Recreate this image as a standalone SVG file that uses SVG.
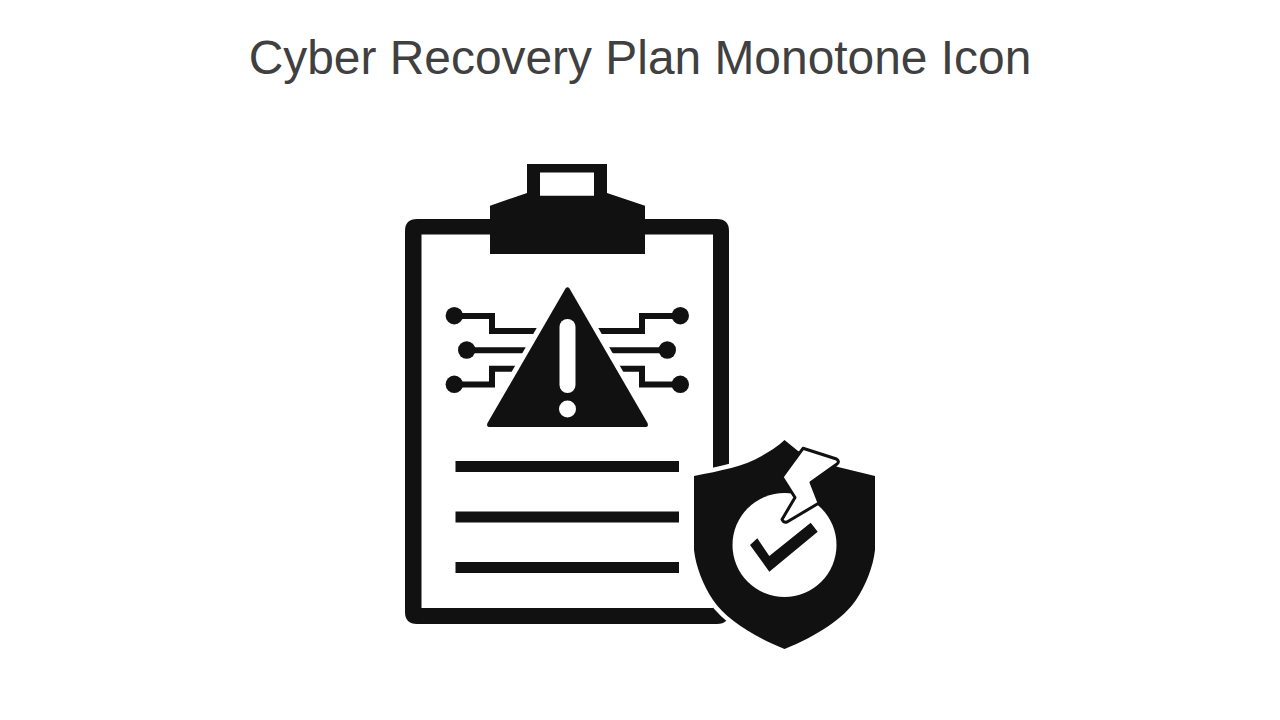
<svg xmlns="http://www.w3.org/2000/svg" width="1280" height="720" viewBox="0 0 1280 720">
<style>
.k{fill:#111}
.w{fill:#fff}
.t{fill:none;stroke:#111;stroke-width:6}
.title{font-family:"Liberation Sans",Arial,sans-serif;font-size:47.900px;fill:#404040;text-anchor:middle}
</style>
<rect width="1280" height="720" fill="#fff"/>
<text class="title" x="640" y="74">Cyber Recovery Plan Monotone Icon</text>
<g id="clipboard">
<path class="k" fill-rule="evenodd" d="M417 219H717Q729 219 729 231V612Q729 624 717 624H417Q405 624 405 612V231Q405 219 417 219ZM421.500 234.500V608H713V234.500Z"/>
<path class="k" fill-rule="evenodd" d="M527 164H607V193L645 205.700V254H490V205.700L527 193ZM540 172.500V195.700H594V172.500Z"/>
<rect class="k" x="455.500" y="461" width="223.500" height="11"/>
<rect class="k" x="455.500" y="511.500" width="223.500" height="11"/>
<rect class="k" x="455.500" y="562" width="223.500" height="11"/>
</g>
<g id="alert">
<g id="traces">
<path class="t" d="M454 316H492V331H545"/>
<path class="t" d="M467 350.300H540"/>
<path class="t" d="M454 384.500H492V368.700H530"/>
<path class="t" d="M680 316H642V331H589"/>
<path class="t" d="M667 350.300H594"/>
<path class="t" d="M680 384.500H642V368.700H604"/>
<circle class="k" cx="454.300" cy="315.700" r="8.700"/>
<circle class="k" cx="466.700" cy="350" r="8.700"/>
<circle class="k" cx="454.300" cy="384.300" r="8.700"/>
<circle class="k" cx="680.300" cy="315.700" r="8.700"/>
<circle class="k" cx="667.300" cy="350" r="8.700"/>
<circle class="k" cx="680.300" cy="384.300" r="8.700"/>
</g>
<path class="w" d="M567.500 274L657 431H478Z"/>
<path class="k" d="M565.500 288.500Q567.500 286 569.500 288.500L647.500 423Q649 427 645 427H490Q486 427 487.500 423Z"/>
<rect class="w" x="559.500" y="319" width="16" height="74" rx="8"/>
<circle class="w" cx="567.500" cy="409" r="8.500"/>
</g>
<g id="shield">
<path d="M694 476C720 471 745 466 761.700 456C770 451 777 447 784.500 440L798 451L838 467L875 476V550C873 567 866 585 856 600C844 618 817 636 784.500 649C752 636 725 618 713 600C703 585 696 567 694 550Z" fill="#111" stroke="#fff" stroke-width="9" paint-order="stroke"/>
<circle class="w" cx="784.500" cy="545" r="52"/>
<path class="k" d="M750 545L757.300 538.300L769.300 556L810.700 522.700L817.700 531.700L769.300 571.700Z"/>
<path d="M803 448.300L836.500 459Q840 461.500 837 464L811 482.500L819 503L787 522Q783.500 523 782 519.500L795 497.500L782 477Z" fill="#fff" stroke="#111" stroke-width="3" stroke-linejoin="round"/>
</g>
</svg>
